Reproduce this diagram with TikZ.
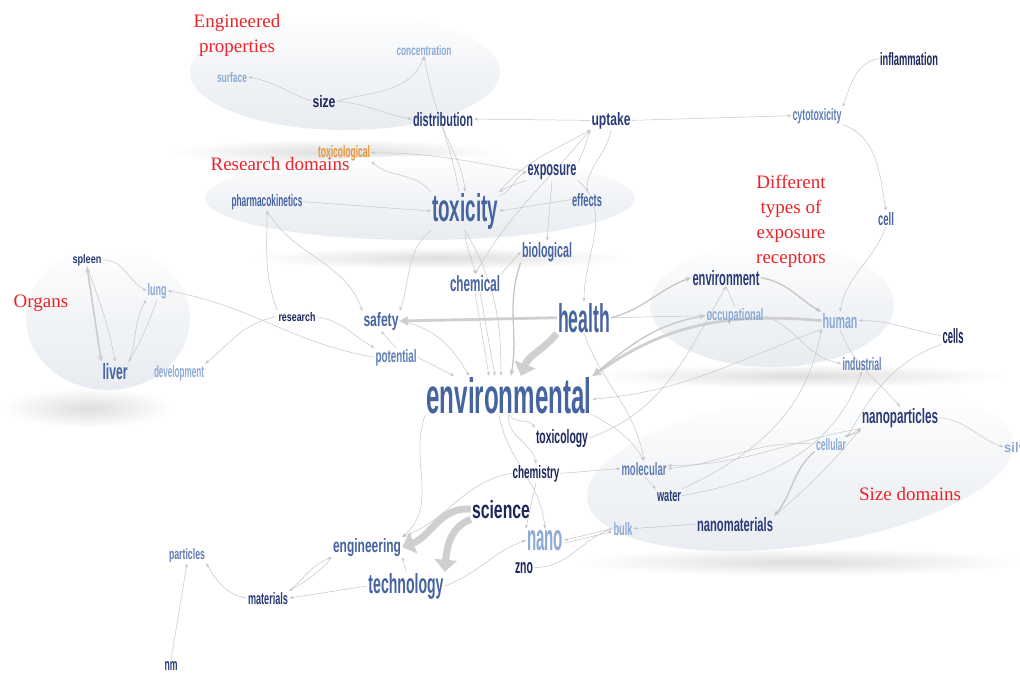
\documentclass[tikz,border=0pt]{standalone}
\usepackage{fontspec}
\usepackage{graphicx}
\setmainfont{Liberation Serif}
\newfontfamily\wfont{Liberation Sans}
\usetikzlibrary{arrows.meta}
\definecolor{navy}{RGB}{28,40,92}
\definecolor{navym}{RGB}{42,60,120}
\definecolor{steel}{RGB}{70,100,160}
\definecolor{steell}{RGB}{95,125,182}
\definecolor{lightb}{RGB}{140,170,212}
\definecolor{orng}{RGB}{232,150,60}
\definecolor{redl}{RGB}{235,35,40}
\definecolor{ellfill}{RGB}{232,236,241}
\newcommand\tw[4]{\textcolor{#3}{\resizebox{#1pt}{#2pt}{\wfont\bfseries #4}}}
\pgfdeclarelayer{bg}
\pgfdeclarelayer{edges}
\pgfsetlayers{bg,edges,main}
\tikzset{
  w/.style={inner sep=1pt, anchor=base},
  lab/.style={text=redl, align=center, font=\fontsize{19}{25}\selectfont, inner sep=0pt},
  e/.style={draw=gray!45, line width=0.5pt, -{Stealth[length=4pt,width=3pt]}},
  eb/.style={draw=gray!45, line width=1.3pt, -{Stealth[length=6pt,width=5pt]}},
  ethick/.style={draw=gray!38, line width=2.8pt, -{Triangle[length=8pt,width=9pt]}},
  ehuge/.style={draw=gray!38, line width=7pt, -{Triangle[length=12pt,width=22pt]}},
  ell/.style={top color=white, bottom color=ellfill, middle color=ellfill!60},
  shad/.style={inner color=gray!26, outer color=white},
}
\begin{document}
\begin{tikzpicture}[x=1pt,y=-1pt]
\useasboundingbox (0,0) rectangle (1020,673);
% ---------- background regions ----------
\begin{pgfonlayer}{bg}
\fill[white] (0,0) rectangle (1020,673);
\shade[shad] (335,152) ellipse [x radius=165, y radius=13];
\shade[ell] (345,72) ellipse [x radius=155, y radius=58];
\shade[shad] (440,258) ellipse [x radius=190, y radius=11];
\shade[ell] (420,198) ellipse [x radius=215, y radius=42];
\shade[shad] (88,408) ellipse [x radius=85, y radius=20];
\shade[ell] (108,318) ellipse [x radius=82, y radius=72];
\shade[shad] (800,376) ellipse [x radius=210, y radius=12];
\shade[ell] (772,305) ellipse [x radius=122, y radius=62];
\shade[shad] (800,562) ellipse [x radius=225, y radius=14];
\shade[ell, rotate around={8:(800,470)}] (800,470) ellipse [x radius=215, y radius=76];
\end{pgfonlayer}
% ---------- red labels ----------
\node[lab] (lEng) at (237,35) {Engineered\\properties};
\node[lab] (lRes) at (280,164) {Research domains};
\node[lab] (lOrg) at (41,303) {Organs};
\node[lab] (lDif) at (791,221) {Different\\types of\\exposure\\receptors};
\node[lab] (lSiz) at (910,494) {Size domains};
% ---------- word nodes ----------
\node[w] (surface) at (232,82) {\tw{30}{10}{lightb}{surface}};
\node[w] (concentration) at (424,55) {\tw{55}{10}{lightb}{concentration}};
\node[w] (size) at (324,107) {\tw{23}{12}{navy}{size}};
\node[w] (distribution) at (443,126) {\tw{60}{14}{navym}{distribution}};
\node[w] (uptake) at (611,125) {\tw{39}{13}{navym}{uptake}};
\node[w] (cytotoxicity) at (817,120) {\tw{49}{12}{steell}{cytotoxicity}};
\node[w] (inflammation) at (909,65) {\tw{58}{13}{navy}{inflammation}};
\node[w] (toxicological) at (344,157) {\tw{52}{12}{orng}{toxicological}};
\node[w] (exposure) at (552,175) {\tw{49}{11}{navym}{exposure}};
\node[w] (toxicity) at (465,221) {\tw{66}{28}{steel}{toxicity}};
\node[w] (pharmacokinetics) at (267,206) {\tw{71}{12}{steel}{pharmacokinetics}};
\node[w] (effects) at (587,206) {\tw{30}{13}{steel}{effects}};
\node[w] (cell) at (886,225) {\tw{16}{13}{steel}{cell}};
\node[w] (biological) at (547,257) {\tw{50}{15}{steel}{biological}};
\node[w] (chemical) at (475,291) {\tw{50}{16}{steel}{chemical}};
\node[w] (environment) at (726,285) {\tw{67}{15}{navym}{environment}};
\node[w] (occupational) at (735,320) {\tw{57}{12}{lightb}{occupational}};
\node[w] (human) at (840,328) {\tw{35}{15}{lightb}{human}};
\node[w] (cells) at (953,343) {\tw{21}{15}{navy}{cells}};
\node[w] (health) at (584,332) {\tw{52}{29}{steel}{health}};
\node[w] (safety) at (381,326) {\tw{35}{14}{steel}{safety}};
\node[w] (research) at (297,321) {\tw{37}{9}{navy}{research}};
\node[w] (potential) at (396,362) {\tw{41}{13}{steell}{potential}};
\node[w] (spleen) at (87,263) {\tw{29}{9}{navym}{spleen}};
\node[w] (lung) at (157,295) {\tw{19}{12}{lightb}{lung}};
\node[w] (liver) at (115,379) {\tw{25}{16}{steel}{liver}};
\node[w] (development) at (179,377) {\tw{50}{12}{lightb}{development}};
\node[w] (industrial) at (862,370) {\tw{39}{13}{steell}{industrial}};
\node[w] (environmental) at (509,413) {\tw{165}{36}{steel}{environmental}};
\node[w] (nanoparticles) at (900,423) {\tw{76}{15}{navym}{nanoparticles}};
\node[w] (cellular) at (831,450) {\tw{30}{12}{lightb}{cellular}};
\node[inner sep=1pt, anchor=base west] (silver) at (1003,452) {\tw{34}{10}{lightb}{silver}};
\node[w] (toxicology) at (562,443) {\tw{52}{14}{navy}{toxicology}};
\node[w] (chemistry) at (536,478) {\tw{47}{13}{navy}{chemistry}};
\node[w] (molecular) at (644,475) {\tw{45}{13}{steell}{molecular}};
\node[w] (water) at (669,501) {\tw{24}{11}{navym}{water}};
\node[w] (science) at (501,518) {\tw{58}{18}{navy}{science}};
\node[w] (nano) at (545,550) {\tw{36}{20}{lightb}{nano}};
\node[w] (bulk) at (623,535) {\tw{19}{13}{lightb}{bulk}};
\node[w] (zno) at (524,573) {\tw{18}{11}{navy}{zno}};
\node[w] (nanomaterials) at (735,531) {\tw{76}{14}{navym}{nanomaterials}};
\node[w] (engineering) at (367,552) {\tw{68}{14}{steel}{engineering}};
\node[w] (technology) at (406,593) {\tw{75}{20}{steel}{technology}};
\node[w] (materials) at (268,604) {\tw{40}{12}{navym}{materials}};
\node[w] (particles) at (187,559) {\tw{36}{11}{steell}{particles}};
\node[w] (nm) at (171,670) {\tw{13}{9}{navym}{nm}};
% ---------- connectors ----------
\begin{pgfonlayer}{edges}
\draw[e] (size.west) to[out=160,in=-10] (surface.east);
\draw[e] (size.east) to[out=15,in=-110] (concentration.south);
\draw[e] (size.east) to[out=-5,in=170] (distribution.west);
\draw[e] (uptake.west) -- (distribution.east);
\draw[e] (uptake.east) -- (cytotoxicity.west);
\draw[e] (inflammation.west) to[out=190,in=70] (cytotoxicity.north east);
\draw[e] (cytotoxicity.south east) to[out=-20,in=100] (cell.north);
\draw[e] (cell.south) to[out=-110,in=80] (human.north);
\draw[e] (distribution.south) to[out=-70,in=95] (toxicity.north);
\draw[e] ([xshift=-6pt]toxicity.north) to[out=100,in=-80] (concentration.south);
\draw[e] (exposure.west) to[out=170,in=0] (toxicological.east);
\draw[e] (toxicity.north west) to[out=130,in=-40] (toxicological.south east);
\draw[e] (exposure.south west) to[out=200,in=30] (toxicity.north east);
\draw[e] ([yshift=-4pt]toxicity.north east) to[out=20,in=210] (exposure.west);
\draw[e] (exposure.north east) to[out=60,in=-110] (uptake.south west);
\draw[e] (toxicity.north east) to[out=50,in=-150] (uptake.south west);
\draw[e] (uptake.south) to[out=-100,in=90] (effects.north);
\draw[e] (effects.west) -- (toxicity.east);
\draw[e] (pharmacokinetics.east) -- (toxicity.west);
\draw[e] (exposure.south) -- (biological.north);
\draw[e] (exposure.south east) to[out=-40,in=90] (health.north);
\draw[e] (research.north west) to[out=110,in=-90] (pharmacokinetics.south);
\draw[e] (pharmacokinetics.south) to[out=-60,in=110] (safety.north west);
\draw[e] (toxicity.south west) to[out=220,in=70] (safety.north east);
\draw[e] (uptake.south west) to[out=-130,in=60] (chemical.north);
\draw[e] (toxicity.south) to[out=-90,in=100] (chemical.north);
\draw[ethick] (health.west) -- (safety.east);
\draw[ehuge] (health.south west) to[out=230,in=70] ([xshift=12pt]environmental.north);
\draw[eb] (health.east) to[out=15,in=200] (environment.west);
\draw[e] (health.east) -- (occupational.west);
\draw[ethick] (human.west) to[out=175,in=35] (environmental.north east);
\draw[e] (human.south west) to[out=200,in=5] ([yshift=-4pt]environmental.east);
\draw[eb] (environmental.north east) to[out=40,in=190] (occupational.west);
\draw[eb] (environment.east) to[out=-10,in=150] (human.north west);
\draw[draw=gray!45, line width=0.5pt] (environment.south) -- (occupational.north);
\draw[e] (cells.west) to[out=170,in=0] (human.east);
\draw[e] (occupational.east) to[out=-20,in=170] (industrial.west);
\draw[e] (human.south) to[out=-70,in=130] (nanoparticles.north);
\draw[e] (cells.south west) to[out=200,in=60] (cellular.north east);
\draw[e] (nanoparticles.east) to[out=-5,in=160] (silver.west);
\draw[e] (cellular.north east) -- (nanoparticles.south west);
\draw[e] ([yshift=-3pt]nanoparticles.south west) -- ([xshift=-3pt]cellular.north east);
\draw[e] (cellular.west) to[out=175,in=5] (molecular.east);
\draw[e] (nanoparticles.south west) to[out=190,in=0] ([yshift=3pt]molecular.east);
\draw[eb] (cellular.south west) to[out=220,in=50] (nanomaterials.north east);
\draw[e] (nanomaterials.north east) to[out=40,in=230] (nanoparticles.south west);
\draw[e] (water.east) to[out=10,in=-110] (industrial.south);
\draw[e] (water.north east) to[out=25,in=-100] (human.south west);
\draw[e] (molecular.south) -- (water.north west);
\draw[e] (chemistry.east) -- (molecular.west);
\draw[e] (environmental.south) to[out=-60,in=120] (toxicology.north west);
\draw[e] (environmental.south) to[out=-100,in=100] (chemistry.north);
\draw[e] (environmental.south east) to[out=-30,in=120] (molecular.north);
\draw[e] ([xshift=-10pt]environmental.south) to[out=-80,in=95] (nano.north);
\draw[e] (chemistry.south) -- (nano.north west);
\draw[e] (health.south) to[out=-70,in=100] (molecular.north);
\draw[e] (toxicology.east) to[out=20,in=-120] (environment.south);
\draw[ehuge] (science.west) to[out=175,in=20] (engineering.east);
\draw[ehuge] (science.south west) to[out=200,in=85] (technology.north east);
\draw[e] (technology.north) -- (engineering.south east);
\draw[e] (materials.north east) to[out=40,in=200] (engineering.south west);
\draw[e] (engineering.south west) to[out=230,in=30] (materials.north east);
\draw[e] (technology.west) -- (materials.east);
\draw[e] (materials.west) to[out=170,in=-60] (particles.south east);
\draw[e] (nm.north) -- (particles.south);
\draw[e] (zno.east) to[out=0,in=200] (bulk.west);
\draw[e] (bulk.west) -- (nano.east);
\draw[e] ([yshift=-3pt]nano.east) -- ([yshift=-3pt]bulk.west);
\draw[e] (nanomaterials.west) -- (bulk.east);
\draw[e] (technology.east) to[out=20,in=200] (nano.west);
\draw[e] (environmental.south west) to[out=-110,in=40] (engineering.north east);
\draw[e] (chemistry.west) to[out=190,in=20] (engineering.north east);
\draw[e] (toxicity.south) to[out=-60,in=90] ([xshift=-8pt]environmental.north);
\draw[e] (chemical.south) -- ([xshift=-20pt]environmental.north);
\draw[e] ([xshift=5pt]chemical.south) -- ([xshift=-14pt]environmental.north);
\draw[eb] (biological.south west) to[out=-110,in=80] ([xshift=2pt]environmental.north);
\draw[e] (chemical.north east) -- (biological.west);
\draw[e] (safety.east) to[out=-10,in=120] ([xshift=-40pt]environmental.north);
\draw[e] (potential.east) -- ([xshift=-55pt]environmental.north);
\draw[e] (potential.north) -- (safety.south);
\draw[e] (potential.west) to[out=170,in=-10] (lung.east);
\draw[e] (research.west) to[out=190,in=40] (development.north east);
\draw[e] (research.east) to[out=-10,in=150] (potential.north west);
\draw[e] (spleen.east) to[out=0,in=150] (lung.west);
\draw[draw=gray!40, line width=1.6pt, {Stealth[length=6pt,width=5pt]}-{Stealth[length=6pt,width=5pt]}] (spleen.south) -- (liver.north west);
\draw[e] (spleen.south) to[out=-70,in=100] (liver.north);
\draw[e] (lung.south) to[out=-110,in=60] (liver.north east);
\draw[e] (liver.north east) to[out=70,in=-120] (lung.south west);
\end{pgfonlayer}
\end{tikzpicture}
\end{document}
